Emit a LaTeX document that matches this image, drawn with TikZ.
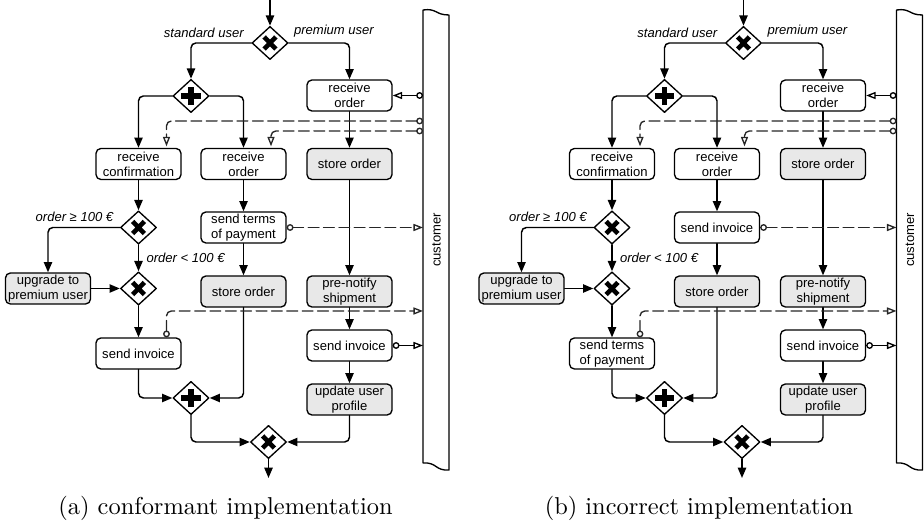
\documentclass[tikz,border=0pt]{standalone}
\usepackage{fontspec}
\newfontfamily\helv{Liberation Sans}
\usetikzlibrary{arrows.meta,shapes.geometric,positioning,calc}

\begin{document}
\begin{tikzpicture}[line cap=round,line join=round,x=0.41pt,y=-0.41pt,
    font=\helv\fontsize{5.35}{6.15}\selectfont,
    task/.style={draw,line width=0.55pt,rounded corners=2pt,minimum width=34.85pt,minimum height=12.7pt,
      inner xsep=0.8pt,inner ysep=0.5pt,align=center,fill=white},
    stask/.style={task,fill=black!9},
    gate/.style={diamond,draw,line width=0.55pt,fill=white,minimum width=14.8pt,minimum height=13.6pt,inner sep=0pt},
    xorgate/.style={gate,path picture={\draw[line width=1.9pt,line cap=butt,shift={(path picture bounding box.center)}]
      (-2.4pt,-2.5pt) -- (2.4pt,2.5pt) (-2.4pt,2.5pt) -- (2.4pt,-2.5pt);}},
    andgate/.style={gate,path picture={\draw[line width=2.4pt,line cap=butt,shift={(path picture bounding box.center)}]
      (-3.9pt,0pt) -- (3.9pt,0pt) (0pt,-3.6pt) -- (0pt,3.6pt);}},
    flow/.style={line width=0.6pt,rounded corners=2pt,-{Triangle[length=4.2pt,width=3.4pt]}},
    msg/.style={line width=0.55pt,rounded corners=2pt,{Circle[open,length=2.8pt,width=2.8pt]}-{Triangle[open,length=3.9pt,width=2.9pt]}},
    dmsg/.style={msg,black!85,dash pattern=on 4.4pt off 1.9pt},
    lbl/.style={font=\helv\itshape\fontsize{5.35}{6.15}\selectfont,inner sep=0pt}]
  \useasboundingbox (0,0) rectangle (924,527);
  \foreach \dx/\lt/\mt/\cp in {0/{send invoice}/{send terms\\of payment}/{(a) conformant implementation},
      473.5/{send terms\\of payment}/{send invoice}/{(b) incorrect implementation}} {
    \begin{scope}[shift={(\dx,0)}]
      % gateways and tasks
      \node[xorgate] (G1) at (270,43) {};
      \node[andgate] (G2) at (191,96) {};
      \node[task] (recOrdP) at (349.5,95.5) {receive\\order};
      \node[task] (recConf) at (138.5,164) {receive\\confirmation};
      \node[task] (recOrdS) at (243.5,164) {receive\\order};
      \node[stask] (storeP) at (349.5,164) {store order};
      \node[xorgate] (G3) at (138.5,227.5) {};
      \node[task] (sendM) at (243.5,227.5) {\mt};
      \node[stask] (upgrade) at (48,288.5) {upgrade to\\premium user};
      \node[xorgate] (G4) at (138.5,288.5) {};
      \node[stask] (storeS) at (243.5,291.5) {store order};
      \node[stask] (prenotify) at (349.5,291.5) {pre-notify\\shipment};
      \node[task] (sendL) at (138.5,353.5) {\lt};
      \node[task] (sendInvP) at (349.5,345.5) {send invoice};
      \node[stask] (updateP) at (349.5,399.5) {update user\\profile};
      \node[andgate] (G5) at (191,398) {};
      \node[xorgate] (G6) at (268.5,442) {};
      \coordinate (start) at (270,0);
      \coordinate (end) at (268.5,478);
      % customer pool
      \draw[line width=0.55pt] (423,10) .. controls (437,8) and (435,15) .. (449,15) -- (449,470)
        .. controls (435,471) and (437,462) .. (423,463) -- cycle;
      \node[rotate=90] (cust) at (436.5,240) {customer};
      \coordinate (poolA) at (423,240);
      \coordinate (laneA) at (423,121);
      \coordinate (laneB) at (423,131);
      \coordinate (laneC) at (423,311);
      % sequence flows
      \draw[flow] (start) -- (G1);
      \draw[flow] (G1.west) -| (G2.north);
      \draw[flow] (G1.east) -| (recOrdP.north);
      \draw[flow] (G2.west) -| (recConf.north);
      \draw[flow] (G2.east) -| (recOrdS.north);
      \draw[flow] (recOrdP) -- (storeP);
      \draw[flow] (recConf) -- (G3);
      \draw[flow] (G3.west) -| (upgrade.north);
      \draw[flow] (G3) -- node[lbl,right=3pt] {order < 100 €} (G4);
      \draw[flow] (upgrade.east) -- (G4.west);
      \draw[flow] (G4) -- (sendL);
      \draw[flow] (recOrdS) -- (sendM);
      \draw[flow] (sendM) -- (storeS);
      \draw[flow] (storeP) -- (prenotify);
      \draw[flow] (prenotify) -- (sendInvP);
      \draw[flow] (sendInvP) -- (updateP);
      \draw[flow] (sendL.south) |- (G5.west);
      \draw[flow] (storeS.south) |- (G5.east);
      \draw[flow] (G5.south) |- (G6.west);
      \draw[flow] (updateP.south) |- (G6.east);
      \draw[flow] (G6) -- (end);
      % message flows
      \draw[msg] (recOrdP -| poolA) -- (recOrdP.east);
      \draw[dmsg,shorten >=0.6pt] (laneA) -| ($(recConf.north)+(28,0)$);
      \draw[dmsg,shorten >=0.6pt] (laneB) -| ($(recOrdS.north)+(27.5,0)$);
      \draw[dmsg] (sendM.east) -- (sendM -| poolA);
      \draw[dmsg] ($(sendL.north)+(28,0)$) |- (laneC);
      \draw[msg] (sendInvP.east) -- (sendInvP -| poolA);
      % labels
      \node[lbl,above left=2pt and 2.9pt of G1.west] {standard user};
      \node[lbl,above right=2pt and 2pt of G1.east] {premium user};
      \node[lbl,above left=2pt and 2.5pt of G3.west] {order ≥ 100 €};
      \node[font=\rmfamily\fontsize{10}{12}\selectfont] (cap) at (225.5,508) {\cp};
    \end{scope}
  }
\end{tikzpicture}
\end{document}
